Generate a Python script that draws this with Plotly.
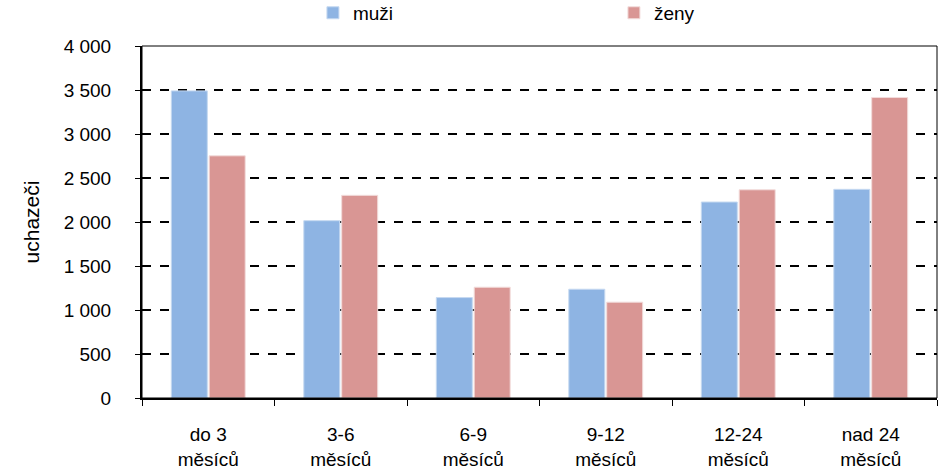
import plotly.graph_objects as go

categories = ["do 3<br>měsíců", "3-6<br>měsíců", "6-9<br>měsíců", "9-12<br>měsíců", "12-24<br>měsíců", "nad 24<br>měsíců"]
muzi = [3490, 2015, 1141, 1236, 2227, 2371]
zeny = [2752, 2303, 1259, 1089, 2366, 3415]
y_ticks = [0, 500, 1000, 1500, 2000, 2500, 3000, 3500, 4000]

FONT = "Liberation Sans, Arial, sans-serif"

fig = go.Figure()
fig.add_trace(go.Bar(name="muži", x=categories, y=muzi,
                     marker=dict(color="#8EB4E3", line=dict(color="#C6D9F1", width=1))))
fig.add_trace(go.Bar(name="ženy", x=categories, y=zeny,
                     marker=dict(color="#D99694", line=dict(color="#F2DCDB", width=1))))

fig.update_layout(
    width=946, height=475,
    margin=dict(l=142, r=9, t=46, b=77, autoexpand=False),
    paper_bgcolor="white", plot_bgcolor="white",
    font=dict(family=FONT, size=19, color="black"),
    separators=", ",
    barmode="group", bargap=0.428, bargroupgap=0.05,
    showlegend=True,
    legend=dict(orientation="h", x=0.215, xanchor="left", y=1.094, yanchor="middle",
                font=dict(size=19), entrywidth=256, itemwidth=30,
                bgcolor="rgba(0,0,0,0)"),
)

fig.update_xaxes(
    type="category", tickson="boundaries", ticks="outside", ticklen=6, tickwidth=1,
    tickcolor="black", showline=True, linecolor="black", linewidth=2,
    showgrid=False, tickfont=dict(size=19), ticklabelstandoff=18, automargin=False,
)
fig.update_yaxes(
    range=[0, 4000], tickvals=y_ticks, tickformat=",d", ticks="outside", ticklen=5,
    tickcolor="black", tickwidth=1, showline=True, linecolor="black", linewidth=2,
    showgrid=True, gridcolor="black", griddash="dash", gridwidth=1.5,
    zeroline=False, tickfont=dict(size=19), ticklabelstandoff=20, automargin=False,
    title=dict(text="uchazeči", font=dict(size=21), standoff=18),
)

fig.add_shape(type="rect", xref="paper", yref="paper", x0=0, x1=1, y0=0, y1=1,
              line=dict(color="black", width=1), fillcolor="rgba(0,0,0,0)", layer="above")

fig.write_html("out.html", config={"displayModeBar": False},
               post_script="document.body.style.margin='0';")
